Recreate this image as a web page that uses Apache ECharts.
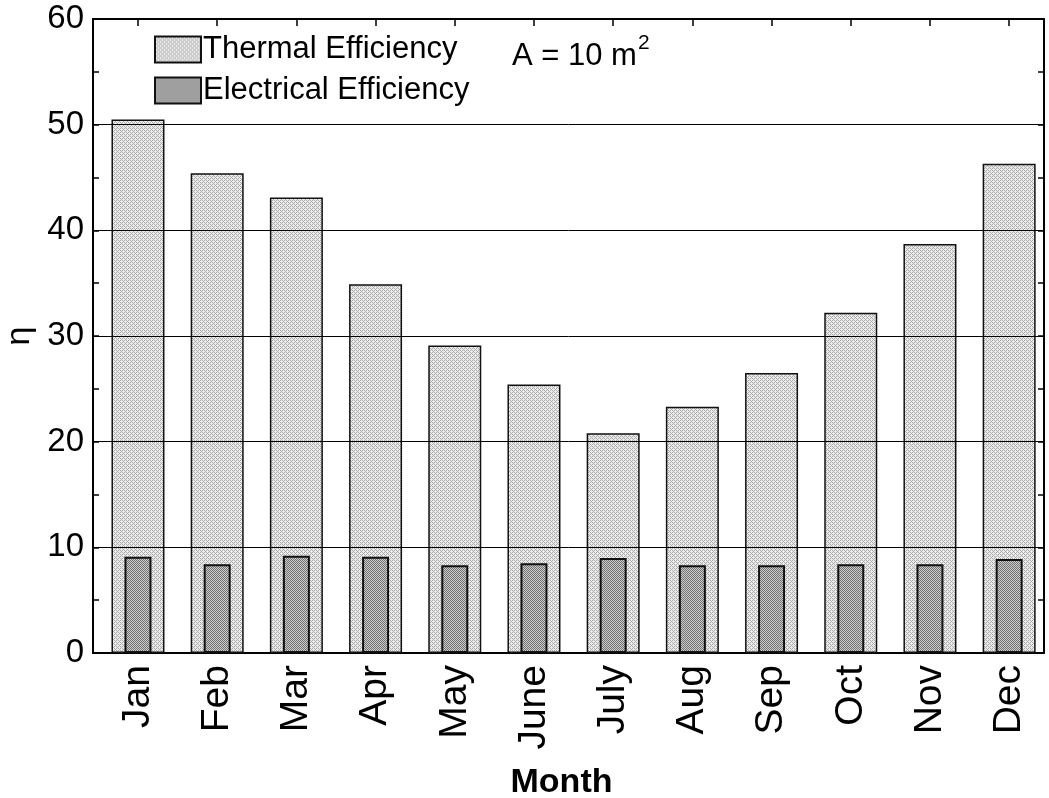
<!DOCTYPE html>
<html>
<head>
<meta charset="utf-8">
<script src="https://cdn.jsdelivr.net/npm/echarts@6/dist/echarts.min.js"></script>
<style>
  html, body { margin: 0; padding: 0; background: #fff; }
  #chart { width: 1049px; height: 798px; }
</style>
</head>
<body>
<div id="chart"></div>
<script>
// Monthly collector efficiencies (%), A = 10 m²
const months = ['Jan', 'Feb', 'Mar', 'Apr', 'May', 'June', 'July', 'Aug', 'Sep', 'Oct', 'Nov', 'Dec'];
const thermalEff = [50.5, 45.4, 43.1, 34.9, 29.1, 25.4, 20.8, 23.3, 26.5, 32.2, 38.7, 46.3];
const electricalEff = [9.1, 8.4, 9.2, 9.1, 8.3, 8.5, 9.0, 8.3, 8.3, 8.4, 8.4, 8.9];
const yTicks = [0, 10, 20, 30, 40, 50, 60];

// Fine dithered fills for the bars
function makePattern(light, dark, dense) {
  const c = document.createElement('canvas');
  c.width = 4; c.height = 4;
  const g = c.getContext('2d');
  g.fillStyle = light; g.fillRect(0, 0, 4, 4);
  g.fillStyle = dark;
  for (let y = 0; y < 4; y++) {
    for (let x = 0; x < 4; x++) {
      const on = dense ? ((x + y) % 2 === 0) : ((x + y) % 4 === 0 || (x + y) % 4 === 2 && y % 2 === 0);
      if (on) g.fillRect(x, y, 1, 1);
    }
  }
  return { image: c, repeat: 'repeat' };
}
const thermalFill = makePattern('#ebebeb', '#adadad', false);
const electricalFill = makePattern('#cbcbcb', '#737373', true);

const monthIndex = months.map((m, i) => i + 1);
const thermalData = thermalEff.map((v, i) => [monthIndex[i], v]);
const electricalData = electricalEff.map((v, i) => [monthIndex[i], v]);

const font = 'Arial, "Liberation Sans", Helvetica, sans-serif';
const xMin = 0.432, xMax = 12.44;

const chart = echarts.init(document.getElementById('chart'), null, { renderer: 'canvas' });
chart.setOption({
  animation: false,
  backgroundColor: '#ffffff',
  textStyle: { fontFamily: font, color: '#000' },
  grid: { left: 93, right: 5, top: 19, bottom: 145, containLabel: false, outerBoundsMode: 'none' },
  legend: {
    left: 154, top: 34, padding: 0,
    orient: 'vertical',
    itemWidth: 46, itemHeight: 26, itemGap: 10,
    icon: 'rect',
    textStyle: { fontSize: 31, fontFamily: font, color: '#000', padding: [0, 0, 0, -3] },
    data: ['Thermal Efficiency', 'Electrical Efficiency']
  },
  xAxis: [
    {
      type: 'value', min: xMin, max: xMax, position: 'bottom',
      name: 'Month', nameLocation: 'middle', nameGap: 113,
      nameTextStyle: { fontSize: 34, fontWeight: 'bold', color: '#000', fontFamily: font, padding: [0, 14, 0, 0] },
      axisLine: { show: true, onZero: false, lineStyle: { color: '#000', width: 2 } },
      axisTick: { show: true, inside: true, length: 6, customValues: monthIndex, lineStyle: { color: '#000', width: 1.5 } },
      axisLabel: {
        customValues: monthIndex, rotate: 90, margin: 12,
        fontSize: 39, color: '#000', fontFamily: font,
        formatter: v => months[Math.round(v) - 1]
      },
      splitLine: { show: false }
    },
    {
      type: 'value', min: xMin, max: xMax, position: 'top',
      axisLine: { show: true, onZero: false, lineStyle: { color: '#000', width: 2 } },
      axisTick: { show: true, inside: true, length: 7, customValues: monthIndex, lineStyle: { color: '#000', width: 1.5 } },
      axisLabel: { show: false },
      splitLine: { show: false }
    }
  ],
  yAxis: [
    {
      type: 'value', min: 0, max: 60, interval: 10, position: 'left', z: 3,
      name: 'η', nameLocation: 'middle', nameGap: 50, nameRotate: 90,
      nameTextStyle: { fontSize: 34, color: '#000', fontFamily: font },
      axisLine: { show: true, onZero: false, lineStyle: { color: '#000', width: 2 } },
      axisTick: { show: true, inside: true, length: 6, lineStyle: { color: '#000', width: 1.5 } },
      minorTick: { show: true, splitNumber: 2, length: 6, lineStyle: { color: '#000', width: 1.5 } },
      axisLabel: { fontSize: 33, color: '#000', margin: 9, fontFamily: font, customValues: yTicks },
      splitLine: { show: true, lineStyle: { color: '#000', width: 1 } }
    },
    {
      type: 'value', min: 0, max: 60, interval: 10, position: 'right', z: 3,
      axisLine: { show: true, onZero: false, lineStyle: { color: '#000', width: 2 } },
      axisTick: { show: true, inside: true, length: 6, lineStyle: { color: '#000', width: 1.5 } },
      minorTick: { show: true, splitNumber: 2, length: 6, lineStyle: { color: '#000', width: 1.5 } },
      axisLabel: { show: false },
      splitLine: { show: false }
    }
  ],
  graphic: [
    {
      type: 'text', left: 512, top: 33, z: 10,
      style: {
        text: '{b|A = 10 m}{s|2}',
        rich: {
          b: { fontSize: 31, fontFamily: font, fill: '#000', verticalAlign: 'bottom' },
          s: { fontSize: 21, fontFamily: font, fill: '#000', verticalAlign: 'top', padding: [0, 0, 18, 1] }
        }
      }
    }
  ],
  series: [
    {
      name: 'Thermal Efficiency', type: 'bar',
      xAxisIndex: 0, yAxisIndex: 0,
      barWidth: 53,
      data: thermalData,
      itemStyle: { color: thermalFill, borderColor: '#111', borderWidth: 1.5 },
      z: 2
    },
    {
      name: 'Electrical Efficiency', type: 'bar',
      xAxisIndex: 1, yAxisIndex: 0,
      barWidth: 27,
      data: electricalData,
      itemStyle: { color: electricalFill, borderColor: '#111', borderWidth: 2 },
      z: 2.5
    }
  ]
});
</script>
</body>
</html>
